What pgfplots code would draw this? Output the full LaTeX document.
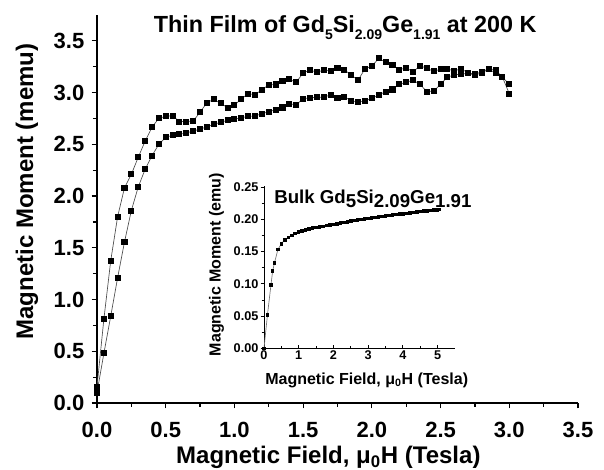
\documentclass[border=0pt]{standalone}
\usepackage{fontspec}
\setmainfont{Liberation Sans}
\usepackage{pgfplots}
\usepackage{pgfplotstable}
\pgfplotsset{compat=1.18}

\newcommand\tsub[1]{\raisebox{-0.5ex}{\fontsize{10.5}{11}\selectfont #1}}

% thin film, two branches on the same field grid (Tesla, memu)
\pgfplotstableread{
x     up     down
0.00  0.157  0.100
0.05  0.810  0.479
0.10  1.376  0.840
0.15  1.800  1.210
0.20  2.080  1.556
0.25  2.210  1.860
0.30  2.375  2.088
0.35  2.530  2.258
0.40  2.665  2.390
0.45  2.752  2.500
0.50  2.770  2.568
0.55  2.778  2.587
0.60  2.720  2.597
0.65  2.720  2.610
0.70  2.725  2.628
0.75  2.810  2.648
0.80  2.903  2.668
0.85  2.935  2.693
0.90  2.896  2.713
0.95  2.855  2.732
1.00  2.880  2.745
1.05  2.937  2.757
1.10  2.990  2.770
1.15  2.980  2.775
1.20  3.028  2.795
1.25  3.075  2.815
1.30  3.078  2.835
1.35  3.112  2.856
1.40  3.127  2.890
1.45  3.100  2.884
1.50  3.190  2.940
1.55  3.220  2.950
1.60  3.195  2.954
1.65  3.220  2.957
1.70  3.210  2.976
1.75  3.235  2.948
1.80  3.220  2.960
1.85  3.170  2.920
1.90  3.120  2.910
1.95  3.230  2.920
2.00  3.256  2.944
2.05  3.330  2.976
2.10  3.295  3.010
2.15  3.265  3.030
2.20  3.220  3.080
2.25  3.240  3.100
2.30  3.200  3.120
2.35  3.260  3.080
2.40  3.235  3.010
2.45  3.205  3.015
2.50  3.227  3.080
2.55  3.227  3.150
2.60  3.210  3.170
2.65  3.230  3.180
2.70  3.190  3.185
2.75  3.180  3.170
2.80  3.200  3.190
2.85  3.230  3.227
2.90  3.220  3.190
2.95  3.150  3.150
3.00  3.080  2.990
}\film

% bulk sample (Tesla, emu)
\pgfplotstableread{
x    m
0.0  0.000
0.1  0.052
0.2  0.098
0.25 0.120
0.3  0.132
0.4  0.153
0.5  0.162
0.6  0.168
0.7  0.172
0.8  0.175
0.9  0.178
1.0  0.180
1.1  0.1815
1.2  0.183
1.3  0.1845
1.4  0.186
1.5  0.187
1.6  0.188
1.7  0.189
1.8  0.190
1.9  0.191
2.0  0.192
2.1  0.193
2.2  0.194
2.3  0.195
2.4  0.196
2.5  0.197
2.6  0.198
2.7  0.199
2.8  0.1995
2.9  0.200
3.0  0.201
3.1  0.202
3.2  0.203
3.3  0.2035
3.4  0.204
3.5  0.205
3.6  0.206
3.7  0.2065
3.8  0.207
3.9  0.208
4.0  0.2085
4.1  0.209
4.2  0.210
4.3  0.2105
4.4  0.211
4.5  0.212
4.6  0.2125
4.7  0.213
4.8  0.2135
4.9  0.214
5.0  0.2145
5.05 0.215
}\bulk

\begin{document}
\begin{tikzpicture}
\begin{axis}[
    name=main,
    scale only axis,
    width=360.75pt, height=291pt,
    xmin=0, xmax=3.5, ymin=0, ymax=3.75,
    axis x line=bottom, axis y line=left,
    axis line style={-, line width=1.1pt},
    xtick={0,0.5,...,3.5}, ytick={0,0.5,...,3.5},
    minor x tick num=1, minor y tick num=1,
    tick align=outside,
    major tick length=4pt, minor tick length=3pt,
    every tick/.style={black, line width=0.9pt},
    /pgf/number format/.cd, fixed, fixed zerofill, precision=1, assume math mode=true,
    /pgfplots/.cd,
    tick label style={font=\bfseries\fontsize{16.5}{18}\selectfont},
    xticklabel style={anchor=base, yshift=-22pt},
    yticklabel style={xshift=-2pt},
    label style={font=\bfseries\fontsize{18}{20}\selectfont},
    xlabel={Magnetic Field, μ\textsubscript{0}H (Tesla)},
    ylabel={Magnetic Moment (memu)},
    xlabel style={at={(axis description cs:0.481,0)}, anchor=base, yshift=-45.75pt},
    ylabel style={at={(axis description cs:0,0.545)}, anchor=center, yshift=52.5pt},
    clip=false,
]
\addplot[black!70, line width=0.5pt, mark=square*, mark size=1.9pt,
    mark options={black, line width=0pt}] table[x=x, y=up] {\film};
\addplot[black!70, line width=0.5pt, mark=square*, mark size=1.9pt,
    mark options={black, line width=0pt}] table[x=x, y=down] {\film};
\node[anchor=base, font=\bfseries\fontsize{17.5}{19}\selectfont]
    at (rel axis cs:0.516,0.954)
    {Thin Film of Gd\tsub{5}Si\tsub{2.09}Ge\tsub{1.91} at 200 K};
\end{axis}

\begin{axis}[
    at={(main.south west)}, anchor=south west,
    xshift=125.25pt, yshift=41pt,
    scale only axis,
    width=143.2pt, height=122pt,
    xmin=0, xmax=5.5, ymin=0, ymax=0.252,
    axis x line=bottom, axis y line=left,
    axis line style={-, line width=0.7pt},
    xtick={0,1,...,5}, ytick={0,0.05,...,0.25},
    minor x tick num=1, minor y tick num=1,
    xtick align=inside, ytick align=outside,
    major tick length=2.5pt, minor tick length=1.8pt,
    every tick/.style={black, line width=0.6pt},
    /pgf/number format/.cd, fixed, fixed zerofill, precision=2, assume math mode=true,
    /pgfplots/.cd,
    xticklabel={\pgfmathprintnumber[precision=0, fixed zerofill=false]{\tick}},
    tick label style={font=\bfseries\fontsize{9.5}{11}\selectfont, inner sep=1.5pt},
    label style={font=\bfseries\fontsize{12}{14}\selectfont},
    xlabel={Magnetic Field, μ\textsubscript{0}H (Tesla)},
    ylabel={Magnetic Moment (emu)},
    xlabel style={at={(axis description cs:0.538,0)}, anchor=base, yshift=-27pt},
    ylabel style={at={(axis description cs:0,0.515)}, anchor=center, yshift=35.6pt},
    clip=false,
]
\addplot[black!55, line width=0.5pt, mark=square*, mark size=0.95pt,
    mark options={black, line width=0pt}] table[x=x, y=m] {\bulk};
\node[anchor=base west, inner sep=0pt, font=\bfseries\fontsize{14}{16}\selectfont]
    at (axis cs:0.29,0.225)
    {Bulk Gd\raisebox{-0.4ex}{5}Si\raisebox{-0.4ex}{2.09}Ge\raisebox{-0.4ex}{1.91}};
\end{axis}

\pgfresetboundingbox
\path (main.south west) ++(-72.75pt,-50.25pt) rectangle ++(453pt,352.5pt);
\end{tikzpicture}
\end{document}
